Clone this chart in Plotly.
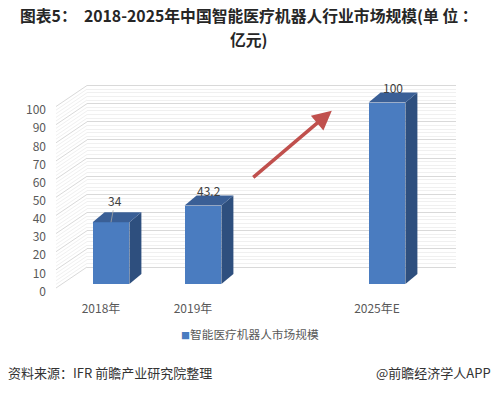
import plotly.graph_objects as go

# ---------------- data ----------------
categories = ["2018年", "2019年", "", "2025年E"]
values = [34, 43.2, None, 100]
value_labels = ["34", "43.2", "", "100"]
series_name = "智能医疗机器人市场规模"
y_ticks = [0, 10, 20, 30, 40, 50, 60, 70, 80, 90, 100]
title_lines = ["图表5：  2018-2025年中国智能医疗机器人行业市场规模(单 位 ：", "亿元)"]
source_text = "资料来源：IFR 前瞻产业研究院整理"
brand_text = "@前瞻经济学人APP"

# ---------------- styling / geometry ----------------
W, H = 497, 393
L, R, T, B = 87, 456, 80, 300          # plot-area pixel box
PW, PH = R - L, B - T
K = 1.815                              # px per value unit
CAT_PX = 92                            # px per category
FIRST_CAT_PX = 111
BAR_W = 0.40
DEPTH_PX = (12, 10)                    # bar depth offset (right, up)
WALL_PX = (31, 21)                     # back-wall offset from front plane

FRONT = "#4A7CC0"
SIDE = "#2E4F7E"
TOP = "#3A5F96"
FONT = "Noto Sans CJK SC, Microsoft YaHei, sans-serif"


def yrange(zero_px):
    r0 = -(B - zero_px) / K
    return [r0, r0 + PH / K]


def py(px):
    """pixel row -> paper y"""
    return (B - px) / PH


def pxx(px):
    """pixel column -> paper x"""
    return (px - L) / PW


x0 = -(FIRST_CAT_PX - L) / CAT_PX
xrange_ = [x0, x0 + PW / CAT_PX]
dxu = DEPTH_PX[0] / CAT_PX
dyu = DEPTH_PX[1] / K

pos = list(range(len(categories)))
bx = [p for p, v in zip(pos, values) if v is not None]
bv = [v for v in values if v is not None]

fig = go.Figure()

# front faces
fig.add_trace(go.Bar(
    x=bx, y=bv, width=BAR_W, marker=dict(color=FRONT, line=dict(width=0)),
    name=series_name, showlegend=False, hoverinfo="x+y"))

# side & top faces (3-D effect) from the values
for p, v in zip(bx, bv):
    xr = p + BAR_W / 2
    xl = p - BAR_W / 2
    fig.add_trace(go.Scatter(
        x=[xr, xr + dxu, xr + dxu, xr, xr], y=[0, dyu, v + dyu, v, 0],
        mode="lines", fill="toself", fillcolor=SIDE, line=dict(width=0, color=SIDE),
        showlegend=False, hoverinfo="skip"))
    fig.add_trace(go.Scatter(
        x=[xl, xl + dxu, xr + dxu, xr, xl], y=[v, v + dyu, v + dyu, v, v],
        mode="lines", fill="toself", fillcolor=TOP, line=dict(width=0, color=TOP),
        showlegend=False, hoverinfo="skip"))

# anchor traces for the wall-grid axis and the label axis
fig.add_trace(go.Scatter(x=bx, y=bv, yaxis="y2", mode="none",
                         showlegend=False, hoverinfo="skip"))
fig.add_trace(go.Scatter(x=bx, y=bv, yaxis="y3", mode="none",
                         showlegend=False, hoverinfo="skip"))

# side-wall diagonal grid lines (front plane -> back wall)
wall_dy = WALL_PX[1] / K
paper_front = -WALL_PX[0] / PW
minor_vals = [v for v in range(0, 101, 2) if v % 10 != 0]
for t in minor_vals:
    fig.add_shape(type="line", xref="paper", yref="y2",
                  x0=paper_front, y0=t - wall_dy, x1=0, y1=t,
                  line=dict(color="#F0F0F0", width=1), layer="below")
for t in y_ticks:
    fig.add_shape(type="line", xref="paper", yref="y2",
                  x0=paper_front, y0=t - wall_dy, x1=0, y1=t,
                  line=dict(color="#D9D9D9", width=1), layer="below")

# data labels
lab_font = dict(family=FONT, size=12, color="#404040")
for p, v, lab in zip(pos, values, value_labels):
    if v is None:
        continue
    if p == 0:
        fig.add_annotation(x=p, y=v, text=lab, showarrow=True, arrowhead=0,
                           arrowwidth=0.8, arrowcolor="#A6A6A6", ax=4, ay=-22,
                           standoff=0, font=lab_font)
    else:
        fig.add_annotation(x=p, y=v, text=lab, showarrow=False, yshift=15,
                           xshift=6, font=lab_font)

# red trend arrow
fig.add_annotation(x=2.40, y=95.5, ax=1.53, ay=58.0, axref="x", ayref="y",
                   xref="x", yref="y", text="", showarrow=True, arrowhead=2,
                   arrowsize=1.1, arrowwidth=3.5, arrowcolor="#C0504D")

# title (two lines)
for line, row in zip(title_lines, [15.5, 40]):
    fig.add_annotation(xref="paper", yref="paper", x=pxx(249), y=py(row),
                       xanchor="center", yanchor="middle", borderpad=0,
                       text="<b>" + line + "</b>", showarrow=False,
                       font=dict(family=FONT, size=15.8, color="#262626"))

# legend (as text with a coloured marker)
fig.add_annotation(xref="paper", yref="paper", x=pxx(250), y=py(333),
                   xanchor="center", yanchor="middle",
                   text=f"<span style='color:{FRONT};font-size:9px'>■</span>" + series_name,
                   showarrow=False, font=dict(family=FONT, size=11.7, color="#595959"))

# footer
fig.add_annotation(xref="paper", yref="paper", x=pxx(6), y=py(372),
                   xanchor="left", yanchor="middle",
                   text=source_text, showarrow=False,
                   font=dict(family=FONT, size=13, color="#333333"))
fig.add_annotation(xref="paper", yref="paper", x=pxx(493), y=py(372),
                   xanchor="right", yanchor="middle",
                   text=brand_text, showarrow=False,
                   font=dict(family=FONT, size=13, color="#333333"))

fig.update_layout(
    width=W, height=H, autosize=False,
    margin=dict(l=L, r=W - R, t=T, b=H - B, pad=0),
    paper_bgcolor="white", plot_bgcolor="rgba(0,0,0,0)",
    showlegend=False, bargap=0,
    font=dict(family=FONT, size=12, color="#595959"),
    xaxis=dict(range=xrange_, tickmode="array", tickvals=pos, ticktext=categories,
               showgrid=False, zeroline=False, showline=False, ticks="",
               ticklabelshift=-10, ticklabelstandoff=0,
               tickfont=dict(family=FONT, size=12, color="#595959")),
    yaxis=dict(range=yrange(284), showgrid=False, zeroline=False, showline=False,
               showticklabels=False, ticks=""),
    yaxis2=dict(range=yrange(267), overlaying="y", side="left",
                tickmode="array", tickvals=y_ticks, showticklabels=False,
                showgrid=True, gridcolor="#D9D9D9", gridwidth=1, zeroline=False,
                showline=False, ticks="",
                minor=dict(tickmode="array", tickvals=minor_vals, showgrid=True,
                           gridcolor="#F0F0F0", gridwidth=1, ticks="")),
    yaxis3=dict(range=yrange(291.5), overlaying="y", side="left",
                tickmode="array", tickvals=y_ticks, showgrid=False, zeroline=False,
                showline=False, ticks="", ticklabelstandoff=40,
                tickfont=dict(family=FONT, size=12, color="#595959")),
)

fig.write_html("out.html", config={"displayModeBar": False},
               post_script="document.body.style.margin='0';"
                           "document.documentElement.style.overflow='hidden';")
